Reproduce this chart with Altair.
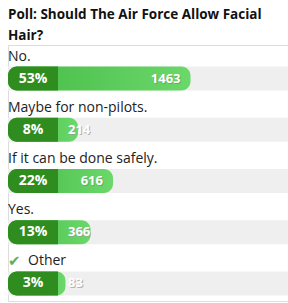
import altair as alt
import pandas as pd

title_lines = ["Poll: Should The Air Force Allow Facial", "Hair?"]
options = ["No.", "Maybe for non-pilots.", "If it can be done safely.", "Yes.", "Other"]
percents = [53, 8, 22, 13, 3]
counts = [1463, 214, 616, 366, 83]
checked = [False, False, False, False, True]

df = pd.DataFrame({
    "option": options,
    "pct": percents,
    "count": counts,
    "checked": checked,
})
df["pct_label"] = df["pct"].astype(str) + "%"
df["count_label"] = df["count"].astype(str)

FONT = "Open Sans"
XMIN, XMAX = -20, 92
xscale = alt.Scale(domain=[XMIN, XMAX], range=[0, 280], clamp=False, nice=False, zero=False)
yscale = alt.Scale(domain=options, paddingInner=0, paddingOuter=0)

Y = alt.Y("option:N", scale=yscale, axis=None, sort=options)

base = alt.Chart(df)

gray = base.mark_bar(size=24, yOffset=8, color="#efefef").encode(
    x=alt.X("lo:Q", scale=xscale, axis=None), x2=alt.X2("hi:Q"), y=Y
).transform_calculate(lo=str(XMIN), hi=str(XMAX))

grad = alt.Gradient(
    gradient="linear",
    stops=[alt.GradientStop(color="#45bb45", offset=0),
           alt.GradientStop(color="#5ccc5c", offset=0.6),
           alt.GradientStop(color="#6ad86a", offset=1)],
    x1=0, x2=1, y1=0, y2=0,
)
light = base.mark_bar(size=24, yOffset=8, color=grad, cornerRadius=9).encode(
    x=alt.X("lo:Q", scale=xscale, axis=None), x2=alt.X2("pct:Q"), y=Y
).transform_calculate(lo=str(XMIN))

dark = base.mark_bar(size=24, yOffset=8, color="#2f8c1f",
                     cornerRadiusTopLeft=9, cornerRadiusBottomLeft=9).encode(
    x=alt.X("lo:Q", scale=xscale, axis=None), x2=alt.X2("zero:Q"), y=Y
).transform_calculate(lo=str(XMIN), zero="0")

pct_text = base.mark_text(font=FONT, fontSize=14, fontWeight="bold", color="white",
                          align="center", baseline="middle", dy=8).encode(
    x=alt.X("mid:Q", scale=xscale, axis=None), y=Y, text="pct_label:N"
).transform_calculate(mid="-10")

count_big_shadow = base.transform_filter("datum.pct >= 20").mark_text(
    font=FONT, fontSize=13, fontWeight="bold", color="#5a9a5a", opacity=0.6,
    align="right", baseline="middle", dx=-9, dy=9).encode(
    x=alt.X("pct:Q", scale=xscale, axis=None), y=Y, text="count_label:N")
count_big = base.transform_filter("datum.pct >= 20").mark_text(
    font=FONT, fontSize=13, fontWeight="bold", color="white",
    align="right", baseline="middle", dx=-10, dy=8).encode(
    x=alt.X("pct:Q", scale=xscale, axis=None), y=Y, text="count_label:N")

count_small_shadow = base.transform_filter("datum.pct < 20").mark_text(
    font=FONT, fontSize=13, fontWeight="bold", color="#9a9a9a", opacity=0.7,
    align="left", baseline="middle", dx=11, dy=9).encode(
    x=alt.X("zero:Q", scale=xscale, axis=None), y=Y, text="count_label:N"
).transform_calculate(zero="0")
count_small = base.transform_filter("datum.pct < 20").mark_text(
    font=FONT, fontSize=13, fontWeight="bold", color="white",
    align="left", baseline="middle", dx=10, dy=8).encode(
    x=alt.X("zero:Q", scale=xscale, axis=None), y=Y, text="count_label:N"
).transform_calculate(zero="0")

labels = base.mark_text(font=FONT, fontSize=14, color="#222222",
                        align="left", baseline="middle", dy=-14).encode(
    x=alt.X("lx:Q", scale=xscale, axis=None), y=Y, text="option:N"
).transform_calculate(lx="datum.checked ? -12 : -20")

check = base.transform_filter("datum.checked").mark_text(
    font="DejaVu Sans", fontSize=15, color="#5fae5f",
    align="left", baseline="middle", dy=-14).encode(
    x=alt.X("lo:Q", scale=xscale, axis=None), y=Y, text=alt.value("✔")
).transform_calculate(lo=str(XMIN))

chart = alt.layer(
    gray, light, dark, pct_text, count_big_shadow, count_big,
    count_small_shadow, count_small, labels, check
).properties(
    width=280, height=256,
    title=alt.TitleParams(text=title_lines, anchor="start", font=FONT, fontSize=13.5,
                          fontWeight="bold", color="#111111", lineHeight=21,
                          offset=3, frame="group"),
    autosize=alt.AutoSizeParams(type="none"),
    padding={"left": 8, "top": 45, "right": 0, "bottom": 2},
).configure_view(stroke=None).configure(background="white")

chart.save("out.html", embed_options={"renderer": "svg", "actions": False})
